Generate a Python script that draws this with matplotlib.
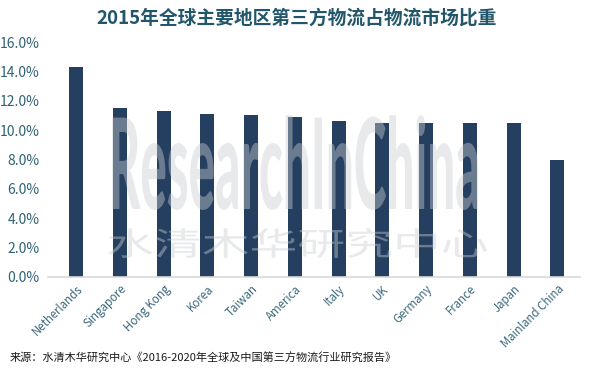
import numpy as np
import matplotlib
matplotlib.use("Agg")
import matplotlib.pyplot as plt
from matplotlib.textpath import TextPath
from matplotlib.font_manager import FontProperties
from matplotlib.patches import PathPatch
from matplotlib.transforms import Affine2D

plt.rcParams['font.family'] = ['Noto Sans CJK SC', 'DejaVu Sans']

# data (% share of 3PL in logistics market, 2015)
regions = ["Netherlands", "Singapore", "Hong Kong", "Korea", "Taiwan", "America",
           "Italy", "UK", "Germany", "France", "Japan", "Mainland China"]
share = [14.3, 11.5, 11.3, 11.1, 11.0, 10.9, 10.6, 10.5, 10.5, 10.5, 10.5, 8.0]
yticks = [0, 2, 4, 6, 8, 10, 12, 14, 16]

title = "2015年全球主要地区第三方物流占物流市场比重"
source = "来源：水清木华研究中心《2016-2020年全球及中国第三方物流行业研究报告》"

W, H = 594, 374
fig = plt.figure(figsize=(W / 100, H / 100), dpi=100)
ax = fig.add_axes([48 / W, 1 - 277 / H, (580 - 48) / W, (277 - 42) / H])

x = np.arange(len(regions))
ax.bar(x, share, width=0.32, color="#253f60", zorder=2)
ax.set_xlim(-0.64, 11.52)
ax.set_ylim(0, 16)

ax.set_yticks(yticks)
ax.set_yticklabels([f"{v:.1f}%" for v in yticks], fontsize=10, color="#2f6275")
ax.set_xticks(x)
ax.set_xticklabels(regions, rotation=45, ha="right", va="top",
                   rotation_mode="anchor", fontsize=8.3, color="#3d6a7e")
ax.tick_params(axis="y", length=0, pad=6)
ax.tick_params(axis="x", length=0, pad=4)
for s in ["top", "right", "left"]:
    ax.spines[s].set_visible(False)
ax.spines["bottom"].set_color("#d9d9d9")
ax.spines["bottom"].set_linewidth(1.2)

fig.text(297 / W, 1 - 18 / H, title, ha="center", va="center",
         fontsize=13.5, fontweight="bold", color="#22566a")
fig.text(10 / W, 1 - 358 / H, source, ha="left", va="center",
         fontsize=8, color="#1a1a1a")


# watermark, stretched to fit the box it covers in the reference (pixel coords, top-down)
def watermark(text, box, family, weight):
    x0, y0, x1, y1 = box
    tp = TextPath((0, 0), text, size=1,
                  prop=FontProperties(family=family, weight=weight))
    ext = tp.get_extents()
    tr = (Affine2D().translate(-ext.x0, -ext.y0)
          .scale((x1 - x0) / ext.width, (y1 - y0) / ext.height)
          .translate(x0, H - y1).scale(1 / W, 1 / H))
    patch = PathPatch(tr.transform_path(tp), transform=fig.transFigure,
                      facecolor="#c8cdd2", edgecolor="none", alpha=0.43, zorder=5)
    fig.add_artist(patch)


watermark("ResearchInChina", (112, 115, 478, 210), "Lato", "black")
watermark("水清木华研究中心", (108, 228, 487, 258), "Noto Sans CJK SC", "normal")

fig.savefig("out.png", dpi=100)
